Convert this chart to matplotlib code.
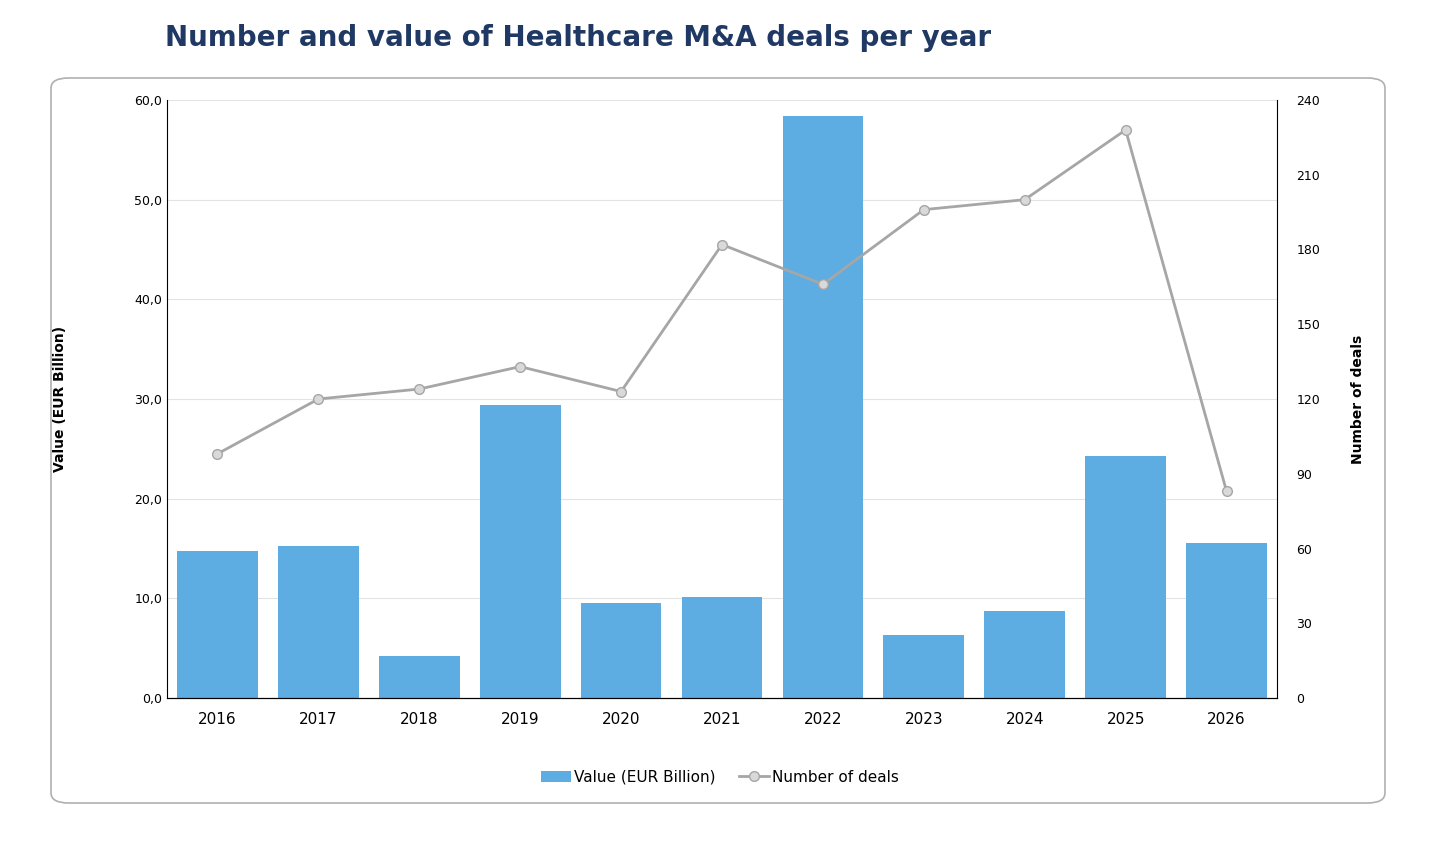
import matplotlib
matplotlib.use("Agg")
import matplotlib.pyplot as plt
from matplotlib.patches import FancyBboxPatch
from matplotlib.ticker import FuncFormatter, MultipleLocator

years = ["2016","2017","2018","2019","2020","2021","2022","2023","2024","2025","2026"]
values = [14.7, 15.3, 4.2, 29.4, 9.5, 10.1, 58.4, 6.3, 8.7, 24.3, 15.6]
deals = [98, 120, 124, 133, 123, 182, 166, 196, 200, 228, 83]

fig = plt.figure(figsize=(14.4, 8.52), dpi=100)
fig.patches.append(FancyBboxPatch((51/1440, 1-803/852), (1385-51)/1440, (803-78)/852,
    boxstyle="round,pad=0,rounding_size=0.012", transform=fig.transFigure,
    fill=False, edgecolor="#b0b0b0", linewidth=1.2))
fig.text(578/1440, 1-38/852, "Number and value of Healthcare M&A deals per year",
         ha="center", va="center", fontsize=20, fontweight="bold", color="#1f3864")

ax = fig.add_axes([167/1440, 1-698/852, (1277-167)/1440, (698-100)/852])
x = range(len(years))
b = ax.bar(x, values, width=0.8, color="#5dade2", label="Value (EUR Billion)", zorder=2)
ax.set_ylim(0, 60)
ax.set_xlim(-0.5, len(years)-0.5)
ax.yaxis.set_major_locator(MultipleLocator(10))
ax.yaxis.set_major_formatter(FuncFormatter(lambda v, p: f"{v:.1f}".replace(".", ",")))
ax.set_xticks(list(x))
ax.set_xticklabels(years, fontsize=11)
ax.tick_params(axis="y", labelsize=9, length=0)
ax.tick_params(axis="x", length=0, pad=10)
ax.grid(axis="y", color="#e3e3e3", zorder=0)
for s in ["top", "right"]:
    ax.spines[s].set_visible(False)
ax.set_ylabel("Value (EUR Billion)", fontsize=10, fontweight="bold", labelpad=48)

ax2 = ax.twinx()
l, = ax2.plot(x, deals, color="#a6a6a6", linewidth=2, marker="o", markersize=7,
              markerfacecolor="#d9d9d9", markeredgecolor="#a6a6a6", label="Number of deals", zorder=3)
ax2.set_ylim(0, 240)
ax2.yaxis.set_major_locator(MultipleLocator(30))
ax2.tick_params(axis="y", labelsize=9, length=0, pad=14)
for s in ["top", "left"]:
    ax2.spines[s].set_visible(False)
ax2.spines["right"].set_color("black")
ax2.set_ylabel("Number of deals", fontsize=10, fontweight="bold", labelpad=22)

fig.legend(handles=[b, l], loc="center", bbox_to_anchor=(720/1440, 1-777/852), ncol=2,
           frameon=False, fontsize=11, handlelength=2, columnspacing=1.5, handletextpad=0.2)
fig.savefig("out.png", dpi=100)
